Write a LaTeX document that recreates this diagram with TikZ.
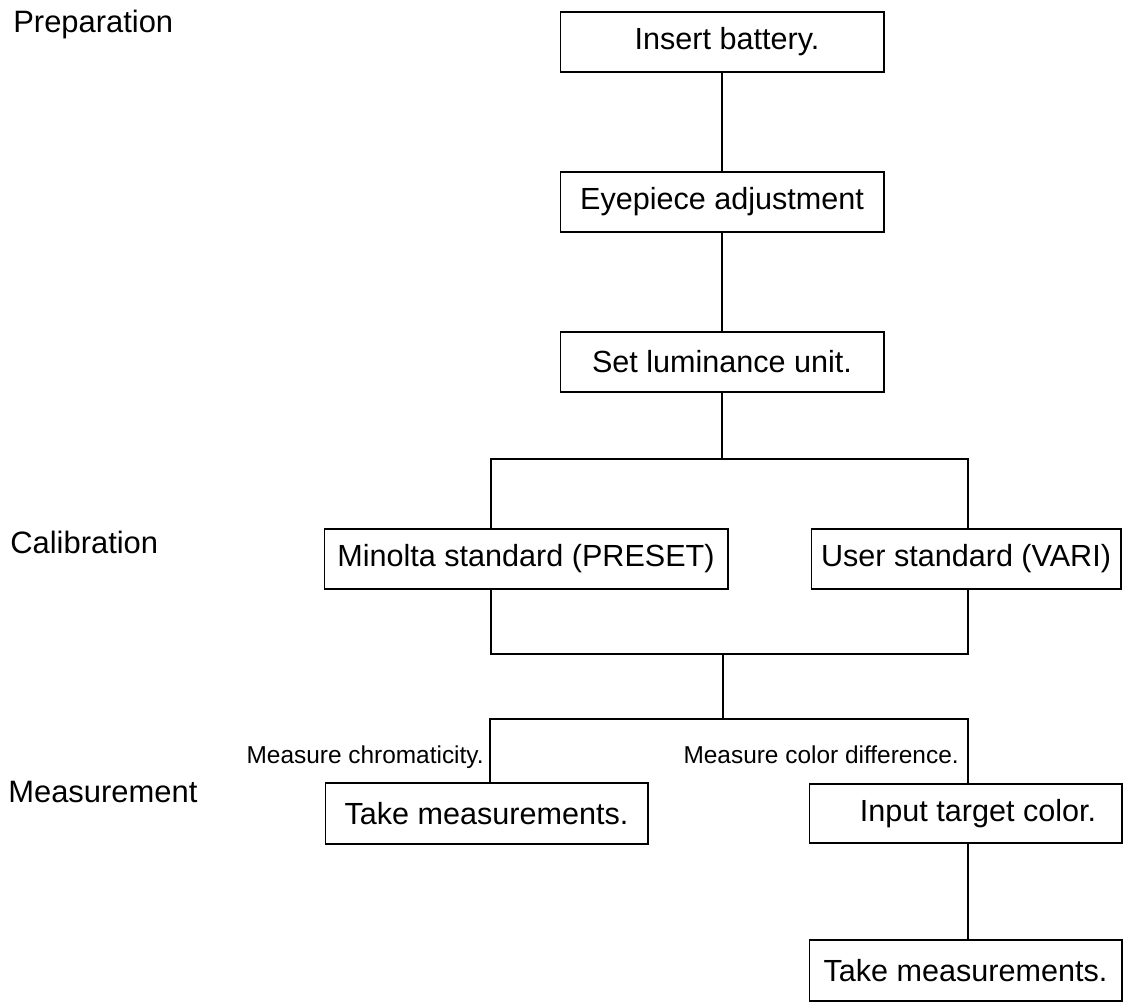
\documentclass[tikz,border=0pt]{standalone}
\usepackage{fontspec}
\setmainfont{Liberation Sans}
\usetikzlibrary{calc}

\begin{document}
\begin{tikzpicture}[x=0.02cm, y=-0.02cm,
    stepbox/.style={draw, line width=0.6pt, minimum height=1.2cm, inner sep=0pt,
        font=\fontsize{17.4}{20}\selectfont},
    phase/.style={anchor=base west, inner sep=0pt, font=\fontsize{17.6}{20}\selectfont},
    branch/.style={anchor=base east, inner sep=0pt, font=\fontsize{13.9}{16}\selectfont},
    wire/.style={line width=0.6pt}]
        \useasboundingbox (0,0) rectangle (1124,1003);

        % Phase labels on the left
        \node[phase] (prep) at (13,33) {Preparation};
        \node[phase] (calib) at (10,553) {Calibration};
        \node[phase] (meas) at (8,802) {Measurement};

        % Preparation steps
        \node[stepbox, minimum width=6.48cm] (battery) at (722,42) {\hspace*{0.2cm}Insert battery.};
        \node[stepbox, minimum width=6.48cm] (eyepiece) at (722,202) {Eyepiece adjustment};
        \node[stepbox, minimum width=6.48cm] (unit) at (722,362) {Set luminance unit.};

        % Calibration choices
        \node[stepbox, minimum width=8.08cm] (preset) at (526,559) {Minolta standard (PRESET)};
        \node[stepbox, minimum width=6.2cm] (vari) at (966,559) {User standard (VARI)};

        % Measurement steps
        \node[stepbox, minimum width=6.46cm, minimum height=1.22cm] (take) at (486.5,813.5) {Take measurements.};
        \node[stepbox, minimum width=6.26cm, minimum height=1.18cm] (target) at (965.5,813.5) {\hspace*{0.5cm}Input target color.};
        \node[stepbox, minimum width=6.26cm, minimum height=1.22cm] (taketwo) at (965.5,970.5) {Take measurements.};

        % Branch labels
        \node[branch] (chroma) at (484,763) {Measure chromaticity.};
        \node[branch] (diff) at (959,763) {Measure color difference.};

        % Junction points
        \coordinate (calL) at (491,459);
        \coordinate (calR) at (968,459);
        \coordinate (joinL) at (491,654);
        \coordinate (joinR) at (968,654);
        \coordinate (joinM) at (723,654);
        \coordinate (measL) at (490,719);
        \coordinate (measR) at (968,719);

        % Connectors
        \draw[wire] (battery) -- (eyepiece);
        \draw[wire] (eyepiece) -- (unit);
        \draw[wire] (unit.south) -- (unit.south |- calL);
        \draw[wire] (preset.north -| calL) -- (calL) -- (calR) -- (vari.north -| calR);
        \draw[wire] (preset.south -| joinL) -- (joinL) -- (joinR) -- (vari.south -| joinR);
        \draw[wire] (joinM) -- (joinM |- measL);
        \draw[wire] (take.north -| measL) -- (measL) -- (measR) -- (target.north -| measR);
        \draw[wire] (target.south -| measR) -- (taketwo.north -| measR);
    \end{tikzpicture}
\end{document}
